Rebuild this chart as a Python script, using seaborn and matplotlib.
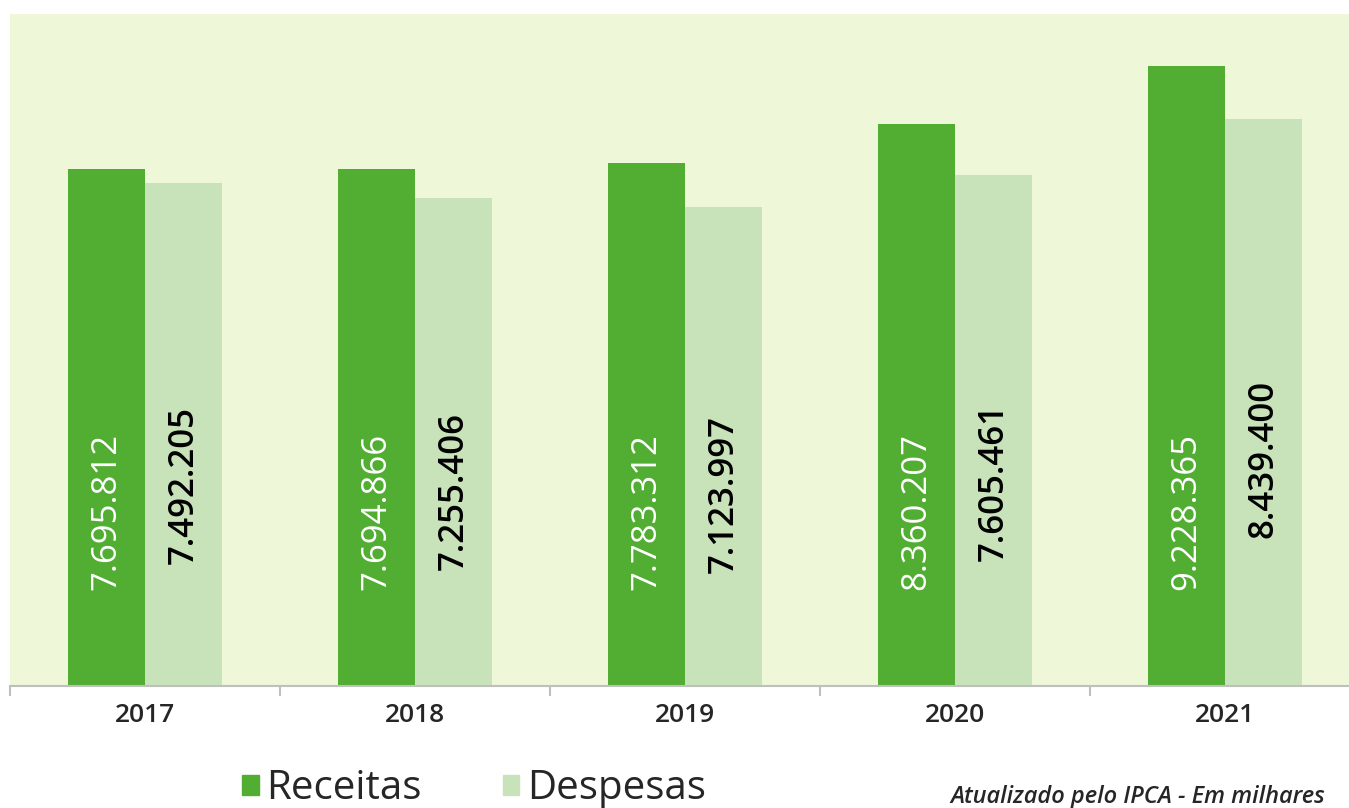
import pandas as pd
import matplotlib.pyplot as plt
import seaborn as sns

anos = ["2017", "2018", "2019", "2020", "2021"]
receitas = [7695812, 7694866, 7783312, 8360207, 9228365]
despesas = [7492205, 7255406, 7123997, 7605461, 8439400]
series = ["Receitas", "Despesas"]
cores = {"Receitas": "#52AE32", "Despesas": "#C8E3BA"}

FONT = ["Open Sans", "DejaVu Sans"]


def fmt(v):
    return f"{v:,}".replace(",", ".")


def make_plot():
    df = pd.DataFrame({
        "ano": anos * 2,
        "valor": receitas + despesas,
        "serie": ["Receitas"] * len(anos) + ["Despesas"] * len(anos),
    })

    sns.set_style("white")
    plt.rcParams["font.family"] = FONT

    fig = plt.figure(figsize=(13.49, 8.08), dpi=100)
    ax = fig.add_axes([10 / 1349, 122 / 808, 1339 / 1349, 672 / 808])
    ax.set_facecolor("#EEF7D8")

    sns.barplot(data=df, x="ano", y="valor", hue="serie", hue_order=series,
                palette=cores, width=0.57, gap=0, saturation=1, linewidth=0,
                ax=ax, legend=False)

    ax.set_ylim(0, 10_000_000)
    ax.set_xlim(-0.5, -0.5 + 1339 / 270)

    # value labels, rotated inside the bars
    off = 0.57 / 4
    for i in range(len(anos)):
        ax.text(i - off, 2_600_000, fmt(receitas[i]), rotation=90,
                ha="center", va="center", color="white", fontsize=25,
                fontweight="medium")
        ax.text(i + off, 0.4 * despesas[i], fmt(despesas[i]), rotation=90,
                ha="center", va="center", color="black", fontsize=25,
                fontweight="semibold")

    for s in ["top", "right", "left"]:
        ax.spines[s].set_visible(False)
    ax.spines["bottom"].set_color("#BFBFBF")
    ax.spines["bottom"].set_linewidth(1.5)
    ax.set_yticks([])
    ax.set_xticks(range(len(anos)))
    ax.set_xticklabels(anos, fontsize=19, fontweight="semibold")
    ax.tick_params(axis="x", which="major", length=0, pad=12)
    ax.set_xticks([i - 0.5 for i in range(len(anos))], minor=True)
    ax.tick_params(axis="x", which="minor", bottom=True, length=7,
                   color="#BFBFBF", width=1.5)
    ax.set_xlabel("")
    ax.set_ylabel("")

    handles = [plt.Rectangle((0, 0), 1, 1, color=cores[s]) for s in series]
    fig.legend(handles, series, loc="center", bbox_to_anchor=(474 / 1349, 1 - 789 / 808),
               ncol=2, frameon=False, fontsize=29, handlelength=0.4, handleheight=0.4,
               handletextpad=0.2, columnspacing=2.0, borderaxespad=0)

    fig.text(1325 / 1349, 1 - 797 / 808, "Atualizado pelo IPCA - Em milhares",
             ha="right", va="center", fontsize=17, style="italic", fontweight="semibold")

    fig.savefig("out.png", dpi=100)
    plt.close(fig)


if __name__ == "__main__":
    make_plot()
